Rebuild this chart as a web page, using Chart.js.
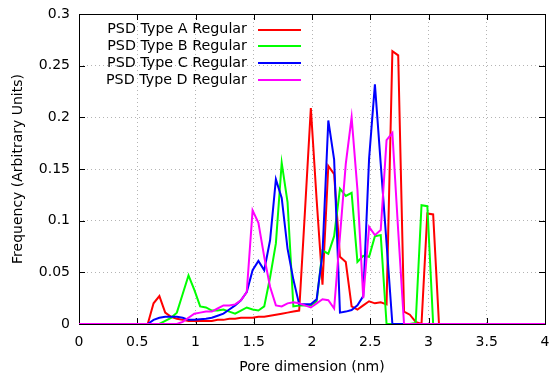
<!DOCTYPE html>
<html>
<head>
<meta charset="utf-8">
<script src="https://cdn.jsdelivr.net/npm/chart.js@4/dist/chart.umd.min.js"></script>
<style>
  html, body { margin: 0; padding: 0; background: #fff; }
  #wrap { width: 550px; height: 377px; }
</style>
</head>
<body>
<div id="wrap"><canvas id="c" width="550" height="377"></canvas></div>
<script>
// Pore dimension grid (nm)
const poreDim = [0,
  0.54, 0.59, 0.64, 0.69, 0.74, 0.79, 0.84, 0.89, 0.94, 0.99,
  1.04, 1.09, 1.14, 1.19, 1.24, 1.29, 1.34, 1.39, 1.44, 1.49,
  1.54, 1.59, 1.64, 1.69, 1.74, 1.79, 1.84, 1.89, 1.94, 1.99,
  2.04, 2.09, 2.14, 2.19, 2.24, 2.29, 2.34, 2.39, 2.44, 2.49,
  2.54, 2.59, 2.64, 2.69, 2.74, 2.79, 2.84, 2.89, 2.94, 2.99,
  3.04, 3.09, 3.14,
  4];

const typeA = [0,
  0, 0, 0.020, 0.027, 0.011, 0.007, 0.005, 0.004, 0.003, 0.003,
  0.003, 0.003, 0.003, 0.004, 0.004, 0.005, 0.005, 0.006, 0.006, 0.006,
  0.007, 0.007, 0.008, 0.009, 0.010, 0.011, 0.012, 0.013, 0.11, 0.209,
  0.12, 0.038, 0.153, 0.145, 0.065, 0.060, 0.017, 0.014, 0.018, 0.022,
  0.020, 0.021, 0.019, 0.264, 0.260, 0.012, 0.009, 0.002, 0, 0.107,
  0.106, 0, 0,
  0];

const typeB = [0,
  0, 0, 0, 0, 0.003, 0.006, 0.011, 0.029, 0.047, 0.033,
  0.017, 0.016, 0.013, 0.013, 0.014, 0.012, 0.010, 0.013, 0.016, 0.014,
  0.013, 0.017, 0.045, 0.078, 0.156, 0.118, 0.017, 0.018, 0.018, 0.018,
  0.022, 0.071, 0.068, 0.085, 0.131, 0.124, 0.127, 0.060, 0.066, 0.065,
  0.085, 0.086, 0, 0, 0, 0, 0, 0.001, 0.115, 0.114,
  0, 0, 0,
  0];

const typeC = [0,
  0, 0, 0.004, 0.006, 0.007, 0.007, 0.007, 0.006, 0.004, 0.004,
  0.0045, 0.005, 0.006, 0.008, 0.010, 0.014, 0.018, 0.023, 0.031, 0.052,
  0.061, 0.052, 0.081, 0.140, 0.122, 0.073, 0.043, 0.019, 0.019, 0.019,
  0.024, 0.068, 0.197, 0.159, 0.011, 0.012, 0.0135, 0.018, 0.027, 0.16,
  0.232, 0.155, 0.078, 0, 0, 0, 0, 0, 0, 0,
  0, 0, 0,
  0];

const typeD = [0,
  0, 0, 0, 0, 0, 0, 0, 0.002, 0.006, 0.010,
  0.011, 0.012, 0.012, 0.015, 0.018, 0.018, 0.019, 0.023, 0.031, 0.110,
  0.098, 0.065, 0.036, 0.018, 0.017, 0.020, 0.021, 0.020, 0.018, 0.016,
  0.020, 0.024, 0.023, 0.015, 0.085, 0.155, 0.200, 0.130, 0.025, 0.094,
  0.086, 0.091, 0.178, 0.185, 0.09, 0, 0, 0, 0, 0,
  0, 0, 0,
  0];

const seriesLabels = ['PSD Type A Regular', 'PSD Type B Regular', 'PSD Type C Regular', 'PSD Type D Regular'];
const seriesColors = ['#ff0000', '#00ff00', '#0000ff', '#ff00ff'];
const xTickLabels = ['0', '0.5', '1', '1.5', '2', '2.5', '3', '3.5', '4'];
const yTickLabels = ['0', '0.05', '0.1', '0.15', '0.2', '0.25', '0.3'];
const xTitle = 'Pore dimension (nm)';
const yTitle = 'Frequency (Arbitrary Units)';

const FONT = 'DejaVu Sans';

function pts(arr) { return poreDim.map((x, i) => ({ x: x, y: arr[i] })); }

const allSeries = [typeA, typeB, typeC, typeD];
const datasets = allSeries.map((arr, i) => ({
  label: seriesLabels[i],
  data: pts(arr),
  borderColor: seriesColors[i],
  backgroundColor: seriesColors[i],
  borderWidth: 2,
  pointRadius: 0,
  tension: 0,
  fill: false,
  order: 4 - i
}));

const framePlugin = {
  id: 'frame',
  beforeDatasetsDraw(chart) {
    const { ctx, chartArea: a, scales } = chart;
    ctx.save();
    ctx.strokeStyle = '#000';
    ctx.lineWidth = 1;
    const L = 6;
    ctx.beginPath();
    scales.x.ticks.forEach(t => {
      const px = Math.round(scales.x.getPixelForValue(t.value)) + 0.5;
      ctx.moveTo(px, a.bottom); ctx.lineTo(px, a.bottom - L);
      ctx.moveTo(px, a.top); ctx.lineTo(px, a.top + L);
    });
    scales.y.ticks.forEach(t => {
      const py = Math.round(scales.y.getPixelForValue(t.value)) + 0.5;
      ctx.moveTo(a.left, py); ctx.lineTo(a.left + L, py);
      ctx.moveTo(a.right, py); ctx.lineTo(a.right - L, py);
    });
    ctx.stroke();
    ctx.strokeRect(Math.round(a.left) + 0.5, Math.round(a.top) + 0.5,
                   Math.round(a.right - a.left), Math.round(a.bottom - a.top));
    ctx.restore();
  }
};

const legendPlugin = {
  id: 'keyLegend',
  afterDatasetsDraw(chart) {
    const { ctx } = chart;
    ctx.save();
    ctx.font = '14.3px "' + FONT + '"';
    ctx.textAlign = 'right';
    ctx.textBaseline = 'middle';
    chart.data.datasets.forEach((ds, i) => {
      const y = 29.5 + i * 16.9;
      ctx.fillStyle = '#000';
      ctx.fillText(ds.label, 247, y);
      ctx.strokeStyle = ds.borderColor;
      ctx.lineWidth = 2;
      ctx.beginPath();
      ctx.moveTo(258, Math.round(y));
      ctx.lineTo(301, Math.round(y));
      ctx.stroke();
    });
    ctx.restore();
  }
};

new Chart(document.getElementById('c'), {
  type: 'line',
  data: { datasets: datasets },
  options: {
    responsive: false,
    animation: false,
    layout: { padding: { top: 14, right: 5, left: 0, bottom: 0 } },
    plugins: {
      legend: { display: false },
      tooltip: { enabled: false }
    },
    scales: {
      x: {
        type: 'linear',
        min: 0, max: 4,
        afterFit(s) { s.height = 53; s.paddingLeft = 0; s.paddingRight = 0; },
        ticks: {
          stepSize: 0.5,
          padding: 10,
          color: '#000',
          font: { family: FONT, size: 14 },
          maxRotation: 0,
          callback: (v, i) => xTickLabels[i]
        },
        grid: { color: '#b4b4b4', lineWidth: 1, drawTicks: false },
        border: { display: false, dash: [1, 3] },
        title: {
          display: true, text: xTitle, color: '#000',
          font: { family: FONT, size: 14 },
          padding: { top: 0, bottom: 1 }
        }
      },
      y: {
        type: 'linear',
        min: 0, max: 0.3,
        afterFit(s) { s.width = 79; s.paddingTop = 0; s.paddingBottom = 0; },
        ticks: {
          stepSize: 0.05,
          padding: 9,
          color: '#000',
          font: { family: FONT, size: 14 },
          callback: (v, i) => yTickLabels[i]
        },
        grid: { color: '#b4b4b4', lineWidth: 1, drawTicks: false },
        border: { display: false, dash: [1, 3] },
        title: {
          display: true, text: yTitle, color: '#000',
          font: { family: FONT, size: 14 },
          padding: { top: 10, bottom: 0 }
        }
      }
    }
  },
  plugins: [framePlugin, legendPlugin]
});
</script>
</body>
</html>
